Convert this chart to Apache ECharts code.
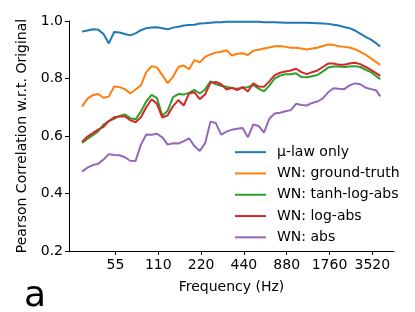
<!DOCTYPE html>
<html>
<head>
<meta charset="utf-8">
<script src="https://cdn.jsdelivr.net/npm/echarts@6/dist/echarts.min.js"></script>
<style>html,body{margin:0;padding:0;background:#fff;}#c{width:415px;height:312px;}</style>
</head>
<body>
<div id="c"></div>
<script>
var frequencies = [32.0, 34.9, 38.1, 41.5, 45.3, 49.4, 53.8, 58.7, 64.0, 69.8, 76.1, 83.0, 90.5, 98.7, 107.6, 117.4, 128.0, 139.6, 152.2, 166.0, 181.0, 197.4, 215.3, 234.8, 256.0, 279.2, 304.4, 332.0, 362.0, 394.8, 430.5, 469.5, 512.0, 558.4, 608.9, 664.0, 724.1, 789.6, 861.1, 939.1, 1024.0, 1116.7, 1217.8, 1328.0, 1448.2, 1579.3, 1722.2, 1878.1, 2048.0, 2233.4, 2435.5, 2656.0, 2896.3, 3158.5, 3444.5, 3756.2, 4000.0];

var muLawOnly = [0.963, 0.967, 0.971, 0.970, 0.955, 0.922, 0.962, 0.960, 0.955, 0.950, 0.957, 0.968, 0.975, 0.977, 0.978, 0.975, 0.971, 0.977, 0.980, 0.984, 0.986, 0.987, 0.991, 0.992, 0.994, 0.996, 0.996, 0.997, 0.997, 0.997, 0.997, 0.997, 0.997, 0.997, 0.996, 0.996, 0.996, 0.995, 0.994, 0.994, 0.994, 0.994, 0.994, 0.993, 0.992, 0.991, 0.990, 0.987, 0.984, 0.979, 0.975, 0.967, 0.956, 0.945, 0.935, 0.922, 0.911];

var wnGroundTruth = [0.702, 0.730, 0.742, 0.746, 0.733, 0.737, 0.772, 0.770, 0.763, 0.748, 0.762, 0.776, 0.822, 0.843, 0.838, 0.812, 0.784, 0.806, 0.840, 0.845, 0.832, 0.864, 0.856, 0.875, 0.884, 0.890, 0.893, 0.898, 0.880, 0.886, 0.888, 0.882, 0.897, 0.900, 0.904, 0.908, 0.912, 0.913, 0.910, 0.907, 0.907, 0.904, 0.901, 0.904, 0.907, 0.913, 0.918, 0.917, 0.912, 0.910, 0.908, 0.902, 0.893, 0.883, 0.870, 0.857, 0.847];

var wnTanhLogAbs = [0.576, 0.590, 0.603, 0.616, 0.640, 0.652, 0.660, 0.670, 0.675, 0.662, 0.658, 0.685, 0.720, 0.743, 0.732, 0.670, 0.688, 0.735, 0.746, 0.744, 0.750, 0.760, 0.748, 0.762, 0.790, 0.780, 0.775, 0.771, 0.766, 0.764, 0.768, 0.770, 0.778, 0.765, 0.755, 0.775, 0.800, 0.810, 0.815, 0.815, 0.818, 0.805, 0.804, 0.808, 0.812, 0.825, 0.838, 0.842, 0.842, 0.840, 0.842, 0.843, 0.840, 0.830, 0.822, 0.808, 0.798];

var wnLogAbs = [0.579, 0.598, 0.610, 0.622, 0.632, 0.652, 0.665, 0.668, 0.668, 0.655, 0.648, 0.665, 0.700, 0.728, 0.712, 0.664, 0.672, 0.704, 0.725, 0.706, 0.748, 0.752, 0.728, 0.745, 0.785, 0.788, 0.780, 0.762, 0.768, 0.760, 0.770, 0.755, 0.783, 0.772, 0.771, 0.790, 0.812, 0.820, 0.824, 0.828, 0.834, 0.822, 0.815, 0.822, 0.828, 0.840, 0.852, 0.852, 0.848, 0.848, 0.852, 0.855, 0.850, 0.840, 0.830, 0.818, 0.809];

var wnAbs = [0.476, 0.490, 0.499, 0.503, 0.518, 0.537, 0.534, 0.533, 0.526, 0.514, 0.513, 0.570, 0.605, 0.604, 0.608, 0.595, 0.570, 0.575, 0.574, 0.582, 0.592, 0.565, 0.548, 0.575, 0.650, 0.645, 0.605, 0.615, 0.622, 0.625, 0.628, 0.596, 0.640, 0.635, 0.612, 0.660, 0.678, 0.681, 0.686, 0.690, 0.712, 0.708, 0.706, 0.715, 0.720, 0.731, 0.752, 0.766, 0.764, 0.763, 0.776, 0.783, 0.780, 0.768, 0.763, 0.758, 0.738];

var seriesNames = ['\u03bc-law only', 'WN: ground-truth', 'WN: tanh-log-abs', 'WN: log-abs', 'WN: abs'];
var seriesColors = ['#1f77b4', '#ff7f0e', '#2ca02c', '#d62728', '#9467bd'];
var xTickLabels = [55, 110, 220, 440, 880, 1760, 3520];
var yTickLabels = [0.2, 0.4, 0.6, 0.8, 1.0];

var FONT = 'DejaVu Sans';
var seriesData = [muLawOnly, wnGroundTruth, wnTanhLogAbs, wnLogAbs, wnAbs];

var chart = echarts.init(document.getElementById('c'), null, {renderer: 'canvas'});
var series = seriesData.map(function (vals, i) {
  return {
    name: seriesNames[i],
    type: 'line',
    data: frequencies.map(function (f, j) { return [f, vals[j]]; }),
    showSymbol: false,
    symbol: 'none',
    lineStyle: {color: seriesColors[i], width: 2},
    itemStyle: {color: seriesColors[i]},
    animation: false
  };
});

chart.setOption({
  animation: false,
  backgroundColor: '#ffffff',
  grid: {left: 69, right: 21, top: 21, bottom: 61},
  legend: {
    orient: 'vertical',
    left: 235,
    top: 144,
    padding: 0,
    itemWidth: 31,
    itemHeight: 2,
    itemGap: 5,
    textStyle: {fontFamily: FONT, fontSize: 14, color: '#000', lineHeight: 16.3, padding: [0, 0, 0, 6]},
    data: seriesNames.map(function (n, i) {
      return {name: n, icon: 'rect', itemStyle: {color: seriesColors[i]}};
    })
  },
  xAxis: {
    type: 'log',
    logBase: 2,
    min: 25.9,
    max: 5000,
    name: 'Frequency (Hz)',
    nameLocation: 'middle',
    nameGap: 29,
    nameTextStyle: {fontFamily: FONT, fontSize: 14, color: '#000'},
    axisLine: {show: true, lineStyle: {color: '#000', width: 1}},
    axisTick: {show: true, length: 4, lineStyle: {color: '#000'}, customValues: xTickLabels},
    axisLabel: {fontFamily: FONT, fontSize: 14, color: '#000', margin: 7, customValues: xTickLabels,
      formatter: function (v) { return String(Math.round(v)); }},
    splitLine: {show: false},
    minorTick: {show: false}
  },
  yAxis: {
    type: 'value',
    min: 0.2,
    max: 1.0,
    interval: 0.2,
    name: 'Pearson Correlation w.r.t. Original',
    nameLocation: 'middle',
    nameGap: 38,
    nameTextStyle: {fontFamily: FONT, fontSize: 14, color: '#000'},
    axisLine: {show: true, lineStyle: {color: '#000', width: 1}},
    axisTick: {show: true, length: 4, lineStyle: {color: '#000'}},
    axisLabel: {fontFamily: FONT, fontSize: 14, color: '#000', margin: 6,
      formatter: function (v) { return v.toFixed(1); }},
    splitLine: {show: false}
  },
  graphic: [{
    type: 'text',
    left: 24,
    top: 279,
    style: {text: 'a', font: '36px "DejaVu Sans"', fill: '#000'}
  }],
  series: series
});
</script>
</body>
</html>
